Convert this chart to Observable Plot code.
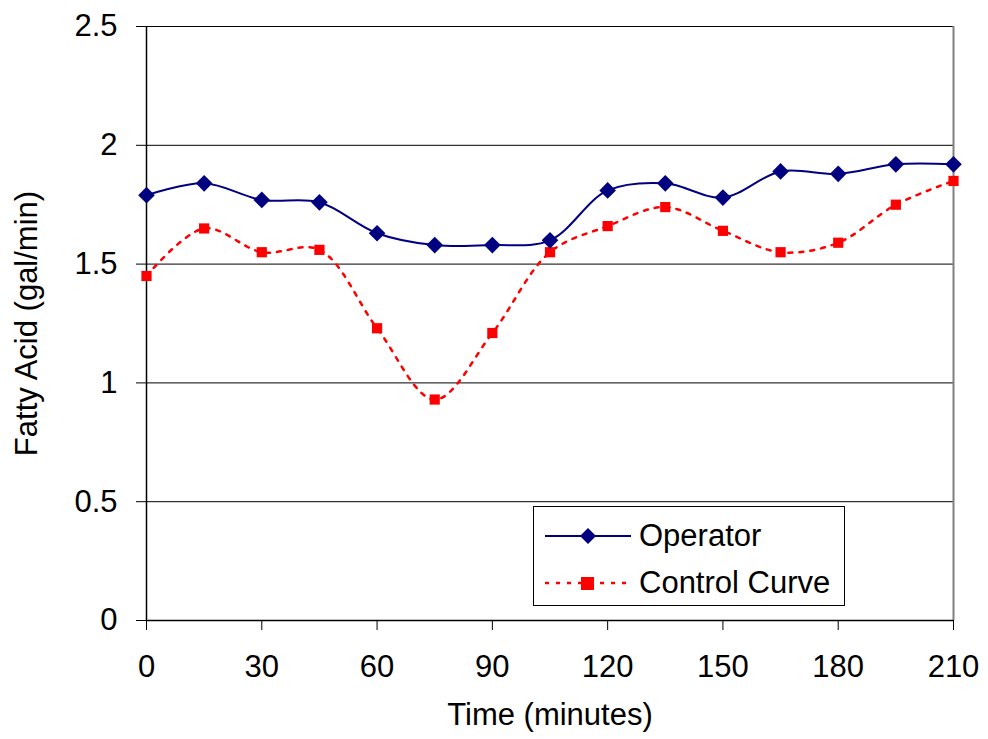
<!DOCTYPE html>
<html>
<head>
<meta charset="utf-8">
<script src="https://cdn.jsdelivr.net/npm/d3@7"></script>
<script src="https://cdn.jsdelivr.net/npm/@observablehq/plot@0.6"></script>
<style>
  html, body { margin: 0; padding: 0; background: #fff; }
  #wrap { position: relative; width: 988px; height: 739px; font-family: "Liberation Sans", Arial, sans-serif; }
  #legend { position: absolute; left: 533px; top: 506px; width: 312px; height: 100px; border: 1.5px solid #000; background: #fff; box-sizing: border-box; }
  .lrow { position: absolute; left: 11px; height: 40px; display: flex; align-items: center; }
  .lrow span { font-size: 31px; color: #000; margin-left: 8px; line-height: 40px; }
</style>
</head>
<body>
<div id="wrap"></div>
<script>
const times = [0, 15, 30, 45, 60, 75, 90, 105, 120, 135, 150, 165, 180, 195, 210];
const operator = [1.79, 1.84, 1.77, 1.76, 1.63, 1.58, 1.58, 1.60, 1.81, 1.84, 1.78, 1.89, 1.88, 1.92, 1.92];
const control = [1.45, 1.65, 1.55, 1.56, 1.23, 0.93, 1.21, 1.55, 1.66, 1.74, 1.64, 1.55, 1.59, 1.75, 1.85];
const xTicks = [0, 30, 60, 90, 120, 150, 180, 210];
const yTicks = [0, 0.5, 1, 1.5, 2, 2.5];
const seriesNames = ["Operator", "Control Curve"];

const opData = times.map((t, i) => ({t, v: operator[i]}));
const ctData = times.map((t, i) => ({t, v: control[i]}));

const chart = Plot.plot({
  width: 988,
  height: 739,
  marginLeft: 146,
  marginRight: 35,
  marginTop: 26,
  marginBottom: 119,
  style: {fontFamily: "'Liberation Sans', Arial, sans-serif", fontSize: "31px", color: "#000", background: "#fff"},
  x: {domain: [0, 210]},
  y: {domain: [0, 2.5]},
  marks: [
    Plot.gridY(yTicks.filter(d => d > 0), {stroke: "#000", strokeOpacity: 1, strokeWidth: 1}),
    Plot.ruleX([210], {stroke: "#808080", strokeWidth: 2}),
    Plot.axisY(yTicks, {tickSize: 10, tickPadding: 19, fontSize: 31, tickFormat: d => String(d),
      label: "Fatty Acid (gal/min)", labelAnchor: "center", labelArrow: "none", labelOffset: 132}),
    Plot.axisX(xTicks, {tickSize: 10, tickPadding: 24, fontSize: 31, tickFormat: d => String(d),
      label: "Time (minutes)", labelAnchor: "center", labelArrow: "none", labelOffset: 104}),
    Plot.ruleX([0], {stroke: "#000", strokeWidth: 1.5}),
    Plot.ruleY([0], {stroke: "#000", strokeWidth: 1.5}),
    Plot.line(ctData, {x: "t", y: "v", stroke: "#ff0000", strokeWidth: 2.5, strokeDasharray: "4,7", curve: "catmull-rom"}),
    Plot.dot(ctData, {x: "t", y: "v", symbol: "square2", r: 6.5, fill: "#ff0000", stroke: "none"}),
    Plot.line(opData, {x: "t", y: "v", stroke: "#000080", strokeWidth: 2, curve: "catmull-rom"}),
    Plot.dot(opData, {x: "t", y: "v", symbol: "diamond2", r: 7.5, fill: "#000080", stroke: "none"})
  ]
});

const wrap = document.getElementById("wrap");
wrap.appendChild(chart);

const legend = document.createElement("div");
legend.id = "legend";
legend.innerHTML = `
  <div class="lrow" style="top:9px">
    <svg width="86" height="20"><line x1="0" y1="10" x2="86" y2="10" stroke="#000080" stroke-width="2"/>
      <path d="M43,2 L51,10 L43,18 L35,10 Z" fill="#000080"/></svg>
    <span>${seriesNames[0]}</span>
  </div>
  <div class="lrow" style="top:56px">
    <svg width="86" height="20"><line x1="0" y1="10" x2="86" y2="10" stroke="#ff0000" stroke-width="2.5" stroke-dasharray="4,7"/>
      <rect x="36" y="4" width="13" height="13" fill="#ff0000"/></svg>
    <span>${seriesNames[1]}</span>
  </div>`;
wrap.appendChild(legend);
</script>
</body>
</html>
